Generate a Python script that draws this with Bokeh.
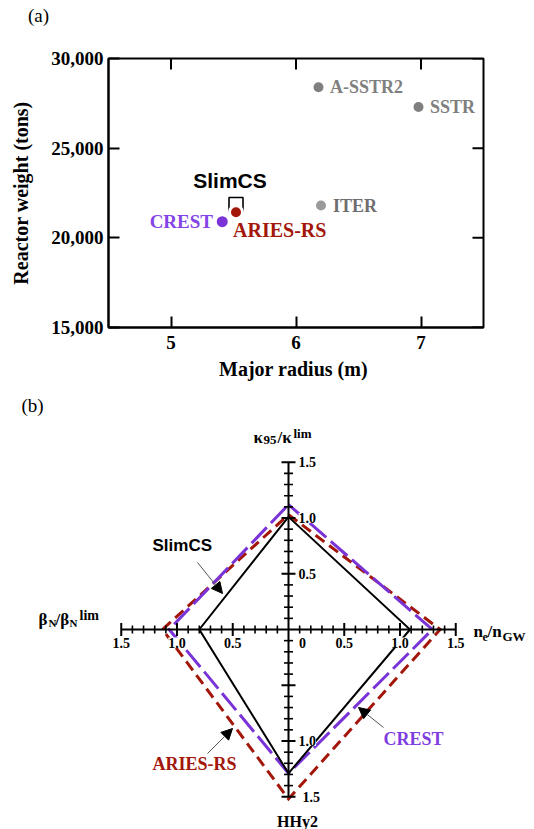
import numpy as np
from bokeh.plotting import figure
from bokeh.models import (FixedTicker, NumeralTickFormatter,
                          Arrow, NormalHead, Range1d)
from bokeh.core.properties import value
from bokeh.embed import file_html
from bokeh.resources import INLINE

SERIF = "Liberation Serif"
SANS = "Liberation Sans"

# ---------------- panel (a) data ----------------
reactors = ["A-SSTR2", "SSTR", "ITER", "SlimCS", "ARIES-RS", "CREST"]
major_radius = [6.18, 6.98, 6.20, 5.52, 5.52, 5.41]
reactor_weight = [28400, 27300, 21800, 21860, 21430, 20900]
x_ticks_a = [5, 6, 7]
y_ticks_a = [15000, 20000, 25000, 30000]

# ---------------- panel (b) data ----------------
# order of radar axes: top, right, bottom, left
radar_axes = ["κ95/κlim", "ne/nGW", "HHy2", "βN/βNlim"]
slimcs_vals = [1.01, 1.09, 1.29, 0.80]
crest_vals = [1.12, 1.29, 1.29, 1.07]
aries_vals = [1.03, 1.36, 1.52, 1.13]
h_tick_vals = [-1.5, -1.0, -0.5, 0.5, 1.0, 1.5]
h_tick_text = ["1.5", "1.0", "0.5", "0.5", "1.0", "1.5"]
v_tick_vals = [1.5, 1.0, 0.5, -1.0, -1.5]
v_tick_text = ["1.5", "1.0", "0.5", "1.0", "1.5"]

GRAY = "#7f7f7f"
GRAY_L = "#9a9a9a"
RED = "#a3170a"
PURPLE = "#7a33d6"

# ======================= header strip with "(a)" =======================
HEAD_H = 30
ph = figure(x_range=Range1d(0, 534), y_range=Range1d(HEAD_H, 0),
            frame_width=534, frame_height=HEAD_H, min_border=0,
            x_axis_location=None, y_axis_location=None,
            toolbar_location=None, output_backend="svg")
ph.grid.visible = False
ph.outline_line_color = None
ph.text(x=[38], y=[15], text=["(a)"], text_font=value(SERIF), text_font_size="19px",
        text_color="black", text_align="center", text_baseline="middle")

# ======================= panel (a) =======================
XA = (4.5, 7.5)
YA = (15000, 30000)
pa = figure(x_range=Range1d(*XA), y_range=Range1d(*YA),
            frame_width=375, frame_height=269,
            min_border_left=108, min_border_right=51, min_border_top=58 - HEAD_H,
            min_border_bottom=69,
            toolbar_location=None, output_backend="svg",
            x_axis_label="Major radius  (m)", y_axis_label="Reactor weight (tons)")
pa.grid.visible = False
pa.outline_line_color = "black"
pa.outline_line_width = 2


def style_axis(ax, ticks):
    ax.ticker = FixedTicker(ticks=ticks)
    ax.axis_line_color = "black"
    ax.axis_line_width = 2
    ax.major_tick_in = 11
    ax.major_tick_out = 0
    ax.major_tick_line_width = 2
    ax.minor_tick_in = 0
    ax.minor_tick_out = 0
    ax.major_label_text_font = SERIF
    ax.major_label_text_font_style = "bold"
    ax.major_label_text_font_size = "19px"
    ax.major_label_text_color = "black"
    ax.axis_label_text_font = SERIF
    ax.axis_label_text_font_style = "bold"
    ax.axis_label_text_font_size = "20px"
    ax.axis_label_text_color = "black"


style_axis(pa.xaxis[0], x_ticks_a)
style_axis(pa.yaxis[0], y_ticks_a)
pa.yaxis[0].formatter = NumeralTickFormatter(format="0,0")
pa.xaxis[0].major_label_standoff = 8
pa.yaxis[0].major_label_standoff = 5
pa.xaxis[0].axis_label_standoff = 6
pa.yaxis[0].axis_label_standoff = 16

# inward ticks on the top and right edges (outer half is clipped by the frame)
pa.scatter(x=x_ticks_a, y=[YA[1]] * len(x_ticks_a), marker="dash", angle=np.pi / 2,
           size=22, line_color="black", line_width=2)
pa.scatter(x=[XA[1]] * len(y_ticks_a), y=y_ticks_a, marker="dash",
           size=22, line_color="black", line_width=2)

# SlimCS: open square, partly hidden by the ARIES-RS dot
pa.scatter(x=[major_radius[3]], y=[reactor_weight[3]], marker="square", size=14,
           fill_color=None, line_color="black", line_width=1.6)
pa.scatter(x=major_radius[0:2], y=reactor_weight[0:2], size=10, fill_color=GRAY, line_color=None)
pa.scatter(x=[major_radius[2]], y=[reactor_weight[2]], size=10, fill_color=GRAY_L, line_color=None)
pa.scatter(x=[major_radius[4]], y=[reactor_weight[4]], size=13, fill_color=RED,
           line_color="white", line_width=3)
pa.scatter(x=[major_radius[5]], y=[reactor_weight[5]], size=11, fill_color=PURPLE, line_color=None)

# point labels
pa.text(x=[6.272, 7.072], y=[reactor_weight[0], reactor_weight[1]], text=[reactors[0], reactors[1]],
        text_font=value(SERIF), text_font_style="bold", text_font_size="18px",
        text_color=GRAY, text_align="left", text_baseline="middle")
pa.text(x=[6.296], y=[reactor_weight[2]], text=[reactors[2]],
        text_font=value(SERIF), text_font_style="bold", text_font_size="18px",
        text_color="#6e6e6e", text_align="left", text_baseline="middle")
pa.text(x=[5.336], y=[reactor_weight[5]], text=[reactors[5]],
        text_font=value(SERIF), text_font_style="bold", text_font_size="19px",
        text_color="#8444e6", text_align="right", text_baseline="middle")
pa.text(x=[5.496], y=[20409], text=[reactors[4]],
        text_font=value(SERIF), text_font_style="bold", text_font_size="20px",
        text_color=RED, text_align="left", text_baseline="middle")
pa.text(x=[5.472], y=[23197], text=[reactors[3]],
        text_font=value(SANS), text_font_style="bold", text_font_size="21px",
        text_color="black", text_align="center", text_baseline="middle")

# ======================= panel (b) =======================
CX, CY, S = 288.0, 629.0, 111.5     # reference-page centre and px per unit
PAGE_TOP, PAGE_BOTTOM, PAGE_W = 396.0, 829.0, 534.0


def px_to_b(px, py):
    return (px - CX) / S, (CY - py) / S


x0, y1 = px_to_b(0, PAGE_TOP)
x1, y0 = px_to_b(PAGE_W, PAGE_BOTTOM)

pb = figure(x_range=Range1d(x0, x1), y_range=Range1d(y0, y1),
            frame_width=int(PAGE_W), frame_height=int(PAGE_BOTTOM - PAGE_TOP), min_border=0,
            x_axis_location=None, y_axis_location=None,
            toolbar_location=None, output_backend="svg")
pb.grid.visible = False
pb.outline_line_color = None


def radar_xy(v):
    xs = [0, v[1], 0, -v[3], 0]
    ys = [v[0], 0, -v[2], 0, v[0]]
    return xs, ys


xs, ys = radar_xy(aries_vals)
pb.line(xs, ys, line_color=RED, line_width=3, line_dash="11 6", line_join="miter")
xs, ys = radar_xy(crest_vals)
pb.line(xs, ys, line_color=PURPLE, line_width=3, line_dash="22 6", line_join="miter")
xs, ys = radar_xy(slimcs_vals)
pb.line(xs, ys, line_color="black", line_width=2, line_join="miter")

# axes
pb.line([-1.5, 1.5], [0, 0], line_color="black", line_width=2)
pb.line([0, 0], [-1.5, 1.5], line_color="black", line_width=2)
tick_all = np.round(np.arange(-15, 16) / 10.0, 2)
tick_all = tick_all[tick_all != 0]
is_major = np.isclose(np.mod(tick_all * 10, 5), 0)
minor_t = tick_all[~is_major]
major_t = tick_all[is_major]
pb.scatter(x=minor_t, y=np.zeros_like(minor_t), marker="dash", angle=np.pi / 2, size=8,
           line_color="black", line_width=1.6)
pb.scatter(x=major_t, y=np.zeros_like(major_t), marker="dash", angle=np.pi / 2, size=13,
           line_color="black", line_width=2)
pb.scatter(x=np.zeros_like(minor_t), y=minor_t, marker="dash", size=9,
           line_color="black", line_width=1.6)
pb.scatter(x=np.zeros_like(major_t), y=major_t, marker="dash", size=14,
           line_color="black", line_width=2)

# tick labels (white boxes hide the lines behind them)
lab_kw = dict(text_font=value(SERIF), text_font_style="bold", text_font_size="14px",
              text_color="black", background_fill_color="white")
_, hy = px_to_b(0, 642)
pb.text(x=h_tick_vals, y=[hy] * len(h_tick_vals), text=h_tick_text,
        text_align="center", text_baseline="middle", **lab_kw)
pb.text(x=[0.125], y=[hy], text=["0"], text_align="center", text_baseline="middle", **lab_kw)
pb.text(x=[0.09] * 4, y=v_tick_vals[:4], text=v_tick_text[:4],
        text_align="left", text_baseline="middle", **lab_kw)
pb.text(x=[0.125], y=[v_tick_vals[4]], text=[v_tick_text[4]],
        text_align="left", text_baseline="middle", **lab_kw)


def btext(px, py, txt, size, color="black", font=SERIF, style="bold",
          align="left", baseline="alphabetic"):
    x, y = px_to_b(px, py)
    pb.text(x=[x], y=[y], text=[txt], text_font=value(font), text_font_style=style,
            text_font_size=f"{size}px", text_color=color, text_align=align,
            text_baseline=baseline)


# axis titles
btext(253, 437, "κ", 17)
btext(263, 439, "95", 13)
btext(277, 437, "/κ", 17)
btext(293, 433, "lim", 13)

btext(38, 619, "β", 17)
btext(48, 622, "N", 11)
btext(55, 619, "/β", 17)
btext(69, 622, "N", 11)
btext(79, 615, "lim", 14)

btext(473, 631, "n", 17)
btext(482, 636, "e", 12)
btext(487, 631, "/n", 17)
btext(502, 636, "GW", 13)

btext(297, 821, "HHy2", 16, baseline="middle", align="center")

# callouts
btext(152, 545, "SlimCS", 17, font=SANS, baseline="middle")
btext(383, 738, "CREST", 18, color="#7f3de0", baseline="middle")
btext(152, 763, "ARIES-RS", 18, color=RED, baseline="middle")
btext(32, 405, "(b)", 19, style="normal", align="center", baseline="middle")

for (sx, sy), (ex, ey) in [((197, 562), (222, 593)),
                           ((383, 727), (358, 707)),
                           ((207, 753), (232, 728))]:
    xs_, ys_ = px_to_b(sx, sy)
    xe_, ye_ = px_to_b(ex, ey)
    pb.add_layout(Arrow(end=NormalHead(size=11, fill_color="black", line_color="black",
                                       line_width=1),
                        x_start=xs_, y_start=ys_, x_end=xe_, y_end=ye_,
                        line_color="#555555", line_width=1))

open("out.html", "w").write(file_html([ph, pa, pb], INLINE))
